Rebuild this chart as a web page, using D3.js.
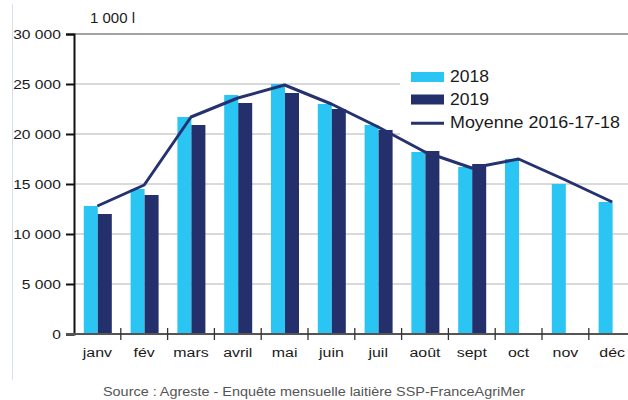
<!DOCTYPE html>
<html>
<head>
<meta charset="utf-8">
<script src="https://cdn.jsdelivr.net/npm/d3@7"></script>
<style>
  html, body { margin: 0; padding: 0; background: #fff; }
  svg { display: block; font-family: "Liberation Sans", Arial, sans-serif; }
</style>
</head>
<body>
<svg id="chart" width="628" height="400"></svg>
<script>
// Monthly milk collection, in thousand litres
const months = ["janv", "fév", "mars", "avril", "mai", "juin", "juil", "août", "sept", "oct", "nov", "déc"];
const series = ["2018", "2019"];
const values2018 = [12800, 14500, 21700, 23900, 25000, 23000, 20900, 18200, 16700, 17500, 15000, 13200];
const values2019 = [12000, 13900, 20900, 23100, 24100, 22500, 20400, 18300, 17000, null, null, null];
const average = [12800, 14900, 21700, 23600, 24900, 23000, 20700, 18200, 16600, 17500, 15400, 13200];
const yTicks = [0, 5000, 10000, 15000, 20000, 25000, 30000];
const unitLabel = "1 000 l";
const legendLabels = ["2018", "2019", "Moyenne 2016-17-18"];
const sourceText = "Source : Agreste - Enquête mensuelle laitière SSP-FranceAgriMer";

const colors = { "2018": "#2bc5f4", "2019": "#24306c", line: "#26316f" };

const svg = d3.select("#chart");
const plotL = 74, plotR = 635.6, plotT = 34, plotB = 334;

const x0 = d3.scaleBand().domain(months).range([plotL, plotR]).padding(0);
const bw = x0.bandwidth();
const x1 = d3.scaleBand().domain(series).range([9.8, 37.8]).padding(0);
const y = d3.scaleLinear().domain([0, 30000]).range([plotB, plotT]);

const fmt = v => d3.format(",")(v).replace(/,/g, " ");

// frame edge on the left
svg.append("line")
  .attr("x1", 12.5).attr("x2", 12.5).attr("y1", 4).attr("y2", 380)
  .attr("stroke", "#d6e0ec").attr("stroke-width", 1);

// horizontal grid
svg.append("g").selectAll("line")
  .data(yTicks.filter(d => d > 0))
  .join("line")
  .attr("x1", plotL).attr("x2", 628)
  .attr("y1", d => y(d)).attr("y2", d => y(d))
  .attr("stroke", d => d === 30000 ? "#a3a3a3" : "#d9d9d9")
  .attr("stroke-width", 2);

// legend background hides the grid behind it
svg.append("rect")
  .attr("x", 400).attr("y", 58).attr("width", 228).attr("height", 78)
  .attr("fill", "#fff");

// bars
const rows = months.map((m, i) => ({ m, v: { "2018": values2018[i], "2019": values2019[i] } }));
svg.append("g").selectAll("g")
  .data(rows)
  .join("g")
  .attr("transform", d => `translate(${x0(d.m)},0)`)
  .selectAll("rect")
  .data(d => series.filter(s => d.v[s] != null).map(s => ({ s, v: d.v[s] })))
  .join("rect")
  .attr("x", d => x1(d.s))
  .attr("width", x1.bandwidth())
  .attr("y", d => y(d.v))
  .attr("height", d => y(0) - y(d.v))
  .attr("fill", d => colors[d.s]);

// three-year average
const line = d3.line()
  .x((d, i) => x0(months[i]) + bw / 2)
  .y(d => y(d));
svg.append("path")
  .datum(average)
  .attr("d", line)
  .attr("fill", "none")
  .attr("stroke", colors.line)
  .attr("stroke-width", 3)
  .attr("stroke-linejoin", "round");

// y axis
const yAxis = svg.append("g")
  .attr("transform", `translate(${plotL},0)`)
  .call(d3.axisLeft(y).tickValues(yTicks).tickFormat(fmt).tickSize(8).tickPadding(3));
yAxis.select(".domain").attr("stroke", "#111").attr("stroke-width", 2);
yAxis.selectAll(".tick line").attr("stroke", "#111").attr("stroke-width", 2);
yAxis.selectAll(".tick text")
  .attr("font-size", 13).attr("fill", "#1a1a1a")
  .attr("transform", "scale(1.2,1)");

// x axis line with ticks between months
const xAxis = svg.append("g");
xAxis.append("line")
  .attr("x1", plotL - 8).attr("x2", 628)
  .attr("y1", plotB).attr("y2", plotB)
  .attr("stroke", "#555").attr("stroke-width", 2);
xAxis.selectAll(".sep")
  .data(months.slice(1))
  .join("line")
  .attr("class", "sep")
  .attr("x1", d => x0(d)).attr("x2", d => x0(d))
  .attr("y1", plotB - 6).attr("y2", plotB + 6)
  .attr("stroke", "#333").attr("stroke-width", 1.3);
xAxis.selectAll(".lbl")
  .data(months)
  .join("text")
  .attr("class", "lbl")
  .attr("text-anchor", "middle")
  .attr("font-size", 13.5)
  .attr("fill", "#1a1a1a")
  .attr("transform", d => `translate(${x0(d) + bw / 2},357) scale(1.18,1)`)
  .text(d => d);

// unit label
svg.append("text")
  .attr("x", 90).attr("y", 23)
  .attr("font-size", 15).attr("fill", "#1a1a1a")
  .text(unitLabel);

// legend
const lg = svg.append("g");
lg.append("rect").attr("x", 411).attr("y", 72).attr("width", 33).attr("height", 10).attr("fill", colors["2018"]);
lg.append("rect").attr("x", 411).attr("y", 94.5).attr("width", 33).attr("height", 10).attr("fill", colors["2019"]);
lg.append("line").attr("x1", 411).attr("x2", 444).attr("y1", 123.3).attr("y2", 123.3)
  .attr("stroke", colors.line).attr("stroke-width", 3);
const legendY = [82, 104.5, 127.5];
const legendW = [39, 39, 170];
lg.selectAll("text")
  .data(legendLabels)
  .join("text")
  .attr("x", 450)
  .attr("y", (d, i) => legendY[i])
  .attr("font-size", 16.5)
  .attr("fill", "#1a1a1a")
  .attr("textLength", (d, i) => legendW[i])
  .attr("lengthAdjust", "spacingAndGlyphs")
  .text(d => d);

// source line
svg.append("text")
  .attr("x", 103).attr("y", 396)
  .attr("font-size", 12.5).attr("fill", "#555")
  .attr("textLength", 422)
  .attr("lengthAdjust", "spacingAndGlyphs")
  .text(sourceText);
</script>
</body>
</html>
